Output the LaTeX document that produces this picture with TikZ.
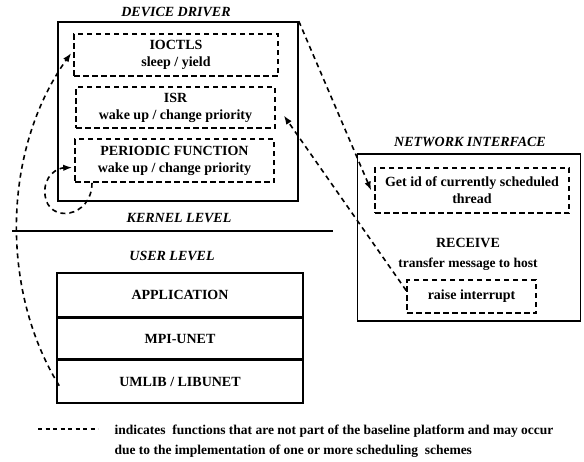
\documentclass[tikz,border=0pt]{standalone}
\usepackage{fontspec}
\setmainfont{Liberation Serif}
\usetikzlibrary{arrows.meta,positioning}
\begin{document}
\begin{tikzpicture}[x=1pt,y=-1pt,
		solidbox/.style={draw,line width=1.6pt,inner sep=0pt},
		dashbox/.style={draw,line width=1.6pt,dash pattern=on 5.5pt off 3.5pt,inner sep=0pt,align=center,font=\fontsize{14}{17}\selectfont\bfseries},
		heading/.style={font=\fontsize{14}{17}\selectfont\bfseries\itshape},
		lbl/.style={font=\fontsize{14}{17}\selectfont\bfseries},
		smalllbl/.style={font=\fontsize{13.5}{16}\selectfont\bfseries},
		dasharrow/.style={line width=1.6pt,dash pattern=on 5pt off 4pt,-{Latex[length=9pt,width=6.5pt]}}]
	\useasboundingbox (0,0) rectangle (584,461);
	
	\node[solidbox,minimum width=240pt,minimum height=179pt] (dd) at (178,111.5) {};
	\node[heading] (ddtitle) at (176,12) {DEVICE DRIVER};
	\node[dashbox,minimum width=204pt,minimum height=42pt] (ioctls) at (176,55) {IOCTLS\\sleep / yield};
	\node[dashbox,minimum width=199pt,minimum height=41pt] (isr) at (175.5,107.5) {ISR\\wake up / change priority};
	\node[dashbox,minimum width=199pt,minimum height=43pt] (periodic) at (174.5,160.5) {PERIODIC FUNCTION\\wake up / change priority};
	\node[heading] (kernel) at (179,218) {KERNEL LEVEL};
	
	\coordinate (sepl) at (12,231);
	\coordinate (sepr) at (333,231);
	\draw[line width=1.6pt] (sepl) -- (sepr);
	
	\node[heading] (user) at (172,256) {USER LEVEL};
	\node[solidbox,lbl,minimum width=246pt,minimum height=44pt] (app) at (180,295) {APPLICATION};
	\node[solidbox,lbl,minimum width=246pt,minimum height=40pt,below=0pt of app] (mpi) {MPI-UNET};
	\node[solidbox,lbl,minimum width=246pt,minimum height=43pt,below=0pt of mpi] (umlib) {UMLIB / LIBUNET};
	
	\node[heading] (nititle) at (470,142) {NETWORK INTERFACE};
	\node[solidbox,minimum width=223pt,minimum height=167pt] (ni) at (469,237.5) {};
	\node[dashbox,minimum width=194pt,minimum height=45pt] (getid) at (472,190.5) {Get id of currently scheduled\\thread};
	\node[lbl] (receive) at (468,243) {RECEIVE};
	\node[smalllbl] (transfer) at (468,264) {transfer message to host};
	\node[dashbox,minimum width=129pt,minimum height=33pt] (raise) at (471.5,296.5) {raise interrupt};
	
	\draw[dasharrow] (dd.north east) -- ([xshift=-3pt]getid.west);
	\draw[dasharrow] ([yshift=6pt]raise.west) -- ([xshift=8pt,yshift=-8pt]isr.east);
	\draw[dasharrow] ([xshift=3pt,yshift=-4pt]umlib.west) .. controls (0,290) and (2,150) .. ([xshift=-2pt,yshift=2pt]ioctls.west);
	\draw[dasharrow] ([xshift=-82.5pt]periodic.south) .. controls (92,218) and (48,224) .. (45,195) .. controls (43,175) and (58,168) .. ([xshift=-2pt,yshift=-7pt]periodic.west);
	
	\coordinate (lega) at (38,429);
	\coordinate (legb) at (98,429);
	\draw[line width=1.1pt,dash pattern=on 4pt off 3.5pt] (lega) -- (legb);
	\node[smalllbl,anchor=base west] (note1) at (111,434) {indicates\ \ functions that are not part of the baseline platform and may occur};
	\node[smalllbl,anchor=base west] (note2) at (111,454) {due to the implementation of one or more scheduling\ \ schemes};
\end{tikzpicture}
\end{document}
